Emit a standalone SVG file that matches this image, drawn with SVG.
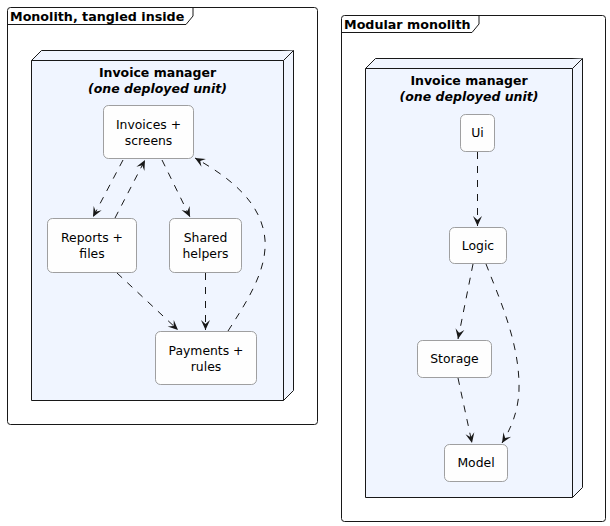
<svg xmlns="http://www.w3.org/2000/svg" width="610" height="526" viewBox="0 0 610 526">
<style>
text{font-family:"DejaVu Sans","Liberation Sans",sans-serif;fill:#000;}
.ft{font-size:12.7px;font-weight:bold;}
.nt{font-size:12.5px;font-weight:bold;text-anchor:middle;}
.ni{font-size:12.5px;font-weight:bold;font-style:italic;text-anchor:middle;}
.lbl{font-size:12.4px;text-anchor:middle;}
.frame{fill:#FFFFFF;stroke:#181818;stroke-width:1;}
.tab{fill:none;stroke:#181818;stroke-width:1;}
.node{fill:#F0F5FF;stroke:#181818;stroke-width:1;}
.comp{fill:#FEFEFE;stroke:#888888;stroke-width:0.8;}
.edge{fill:none;stroke:#181818;stroke-width:1;stroke-dasharray:7,7;}
</style>
<defs>
<marker id="ah" viewBox="-11 -5 12 10" refX="0" refY="0" markerWidth="12" markerHeight="10" orient="auto" markerUnits="userSpaceOnUse">
<path d="M0,0 L-10,-4.5 L-6,0 L-10,4.5 Z" fill="#181818"/>
</marker>
</defs>

<g id="frame-left">
<rect class="frame" x="7.5" y="7.5" width="310" height="417" rx="3" ry="3"/>
<path class="tab" d="M7.5,24.5 L186,24.5 L193,16 L193,7.5"/>
<text class="ft" x="10" y="21">Monolith, tangled inside</text>
</g>

<g id="frame-right">
<rect class="frame" x="341.5" y="15.5" width="264" height="506" rx="3" ry="3"/>
<path class="tab" d="M341.5,32.5 L472,32.5 L479,24 L479,15.5"/>
<text class="ft" x="344" y="29">Modular monolith</text>
</g>

<g id="node-left">
<path class="node" d="M31.5,60.5 L41.5,50.5 L293.5,50.5 L293.5,390.5 L283.5,400.5 L31.5,400.5 Z"/>
<path class="node" d="M31.5,60.5 L283.5,60.5 L293.5,50.5 M283.5,60.5 L283.5,400.5" fill="none"/>
<text class="nt" x="157.5" y="77">Invoice manager</text>
<text class="ni" x="157.5" y="93">(one deployed unit)</text>
</g>

<g id="node-right">
<path class="node" d="M365.5,68.5 L375.5,58.5 L582.5,58.5 L582.5,487.5 L572.5,497.5 L365.5,497.5 Z"/>
<path class="node" d="M365.5,68.5 L572.5,68.5 L582.5,58.5 M572.5,68.5 L572.5,497.5" fill="none"/>
<text class="nt" x="469" y="85">Invoice manager</text>
<text class="ni" x="469" y="101">(one deployed unit)</text>
</g>

<g id="invoices">
<rect class="comp" x="103.5" y="105.5" width="90" height="53" rx="5" ry="5"/>
<text class="lbl" x="148.5" y="129">Invoices +</text>
<text class="lbl" x="148.5" y="145">screens</text>
</g>
<g id="reports">
<rect class="comp" x="47.5" y="218.5" width="89" height="54" rx="5" ry="5"/>
<text class="lbl" x="92" y="242">Reports +</text>
<text class="lbl" x="92" y="258">files</text>
</g>
<g id="shared">
<rect class="comp" x="169.5" y="218.5" width="72" height="54" rx="5" ry="5"/>
<text class="lbl" x="205.5" y="242">Shared</text>
<text class="lbl" x="205.5" y="258">helpers</text>
</g>
<g id="payments">
<rect class="comp" x="155.5" y="331.5" width="101" height="53" rx="5" ry="5"/>
<text class="lbl" x="206" y="355">Payments +</text>
<text class="lbl" x="206" y="371">rules</text>
</g>

<g id="ui">
<rect class="comp" x="460.5" y="114.5" width="34" height="37" rx="5" ry="5"/>
<text class="lbl" x="477.5" y="137">Ui</text>
</g>
<g id="logic">
<rect class="comp" x="449.5" y="227.5" width="57" height="36" rx="5" ry="5"/>
<text class="lbl" x="478" y="250">Logic</text>
</g>
<g id="storage">
<rect class="comp" x="417.5" y="340.5" width="74" height="37" rx="5" ry="5"/>
<text class="lbl" x="454.5" y="363">Storage</text>
</g>
<g id="model">
<rect class="comp" x="444.5" y="444.5" width="63" height="37" rx="5" ry="5"/>
<text class="lbl" x="476" y="467">Model</text>
</g>

<g id="connectors">
<path class="edge" marker-end="url(#ah)" d="M123,160 L93,217"/>
<path class="edge" marker-end="url(#ah)" d="M115,218 L145,160"/>
<path class="edge" marker-end="url(#ah)" d="M162,160 L190,217"/>
<path class="edge" marker-end="url(#ah)" d="M117,273 L178,330"/>
<path class="edge" marker-end="url(#ah)" d="M205.5,273 L205.5,330"/>
<path class="edge" marker-end="url(#ah)" d="M228,331 C248,300 267,270 265,240 C262,200 225,175 195,158"/>
<path class="edge" marker-end="url(#ah)" d="M477.5,152 L477.5,226"/>
<path class="edge" marker-end="url(#ah)" d="M473,264 L458,339"/>
<path class="edge" marker-end="url(#ah)" d="M458,378 L472,443"/>
<path class="edge" marker-end="url(#ah)" d="M486,264 C500,300 518,340 519,383 C520,410 510,430 502,443"/>
</g>
</svg>
